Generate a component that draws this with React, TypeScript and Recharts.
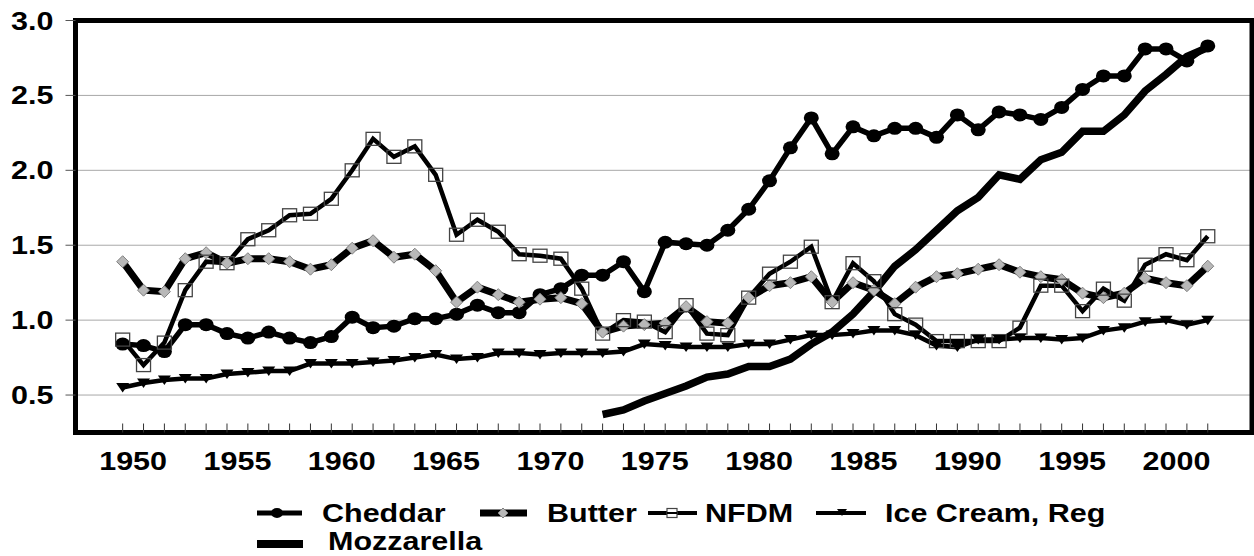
import React from 'react';
import { LineChart, Line, XAxis, YAxis, CartesianGrid, ReferenceArea } from 'recharts';

const years = [1950, 1951, 1952, 1953, 1954, 1955, 1956, 1957, 1958, 1959, 1960, 1961, 1962, 1963, 1964, 1965, 1966, 1967, 1968, 1969, 1970, 1971, 1972, 1973, 1974, 1975, 1976, 1977, 1978, 1979, 1980, 1981, 1982, 1983, 1984, 1985, 1986, 1987, 1988, 1989, 1990, 1991, 1992, 1993, 1994, 1995, 1996, 1997, 1998, 1999, 2000, 2001, 2002];

const cheddar = [0.84, 0.83, 0.79, 0.97, 0.97, 0.91, 0.88, 0.92, 0.88, 0.85, 0.89, 1.02, 0.95, 0.96, 1.01, 1.01, 1.04, 1.10, 1.05, 1.05, 1.17, 1.21, 1.30, 1.30, 1.39, 1.19, 1.52, 1.51, 1.50, 1.60, 1.74, 1.93, 2.15, 2.35, 2.11, 2.29, 2.23, 2.28, 2.28, 2.22, 2.37, 2.27, 2.39, 2.37, 2.34, 2.42, 2.54, 2.63, 2.63, 2.81, 2.81, 2.73, 2.83];

const butter = [1.39, 1.20, 1.19, 1.41, 1.45, 1.38, 1.41, 1.41, 1.39, 1.34, 1.37, 1.48, 1.53, 1.42, 1.44, 1.33, 1.12, 1.22, 1.17, 1.12, 1.14, 1.15, 1.11, 0.92, 0.96, 0.97, 0.98, 1.09, 0.99, 0.98, 1.15, 1.23, 1.25, 1.29, 1.12, 1.25, 1.20, 1.11, 1.22, 1.29, 1.31, 1.34, 1.37, 1.32, 1.29, 1.27, 1.18, 1.15, 1.18, 1.28, 1.25, 1.23, 1.36];

const nfdm = [0.87, 0.70, 0.85, 1.20, 1.39, 1.38, 1.54, 1.60, 1.70, 1.71, 1.81, 2.00, 2.21, 2.09, 2.16, 1.97, 1.57, 1.67, 1.59, 1.44, 1.43, 1.41, 1.21, 0.91, 1.00, 0.99, 0.92, 1.10, 0.91, 0.90, 1.15, 1.31, 1.39, 1.49, 1.12, 1.38, 1.26, 1.04, 0.97, 0.86, 0.86, 0.86, 0.86, 0.95, 1.23, 1.23, 1.06, 1.21, 1.13, 1.37, 1.44, 1.40, 1.56];

const iceCream = [0.55, 0.58, 0.60, 0.61, 0.61, 0.64, 0.65, 0.66, 0.66, 0.71, 0.71, 0.71, 0.72, 0.73, 0.75, 0.77, 0.74, 0.75, 0.78, 0.78, 0.77, 0.78, 0.78, 0.78, 0.79, 0.84, 0.83, 0.82, 0.82, 0.82, 0.84, 0.84, 0.87, 0.90, 0.90, 0.91, 0.93, 0.93, 0.90, 0.83, 0.82, 0.87, 0.87, 0.88, 0.88, 0.87, 0.88, 0.93, 0.95, 0.99, 1.00, 0.97, 1.00];

const mozzarella: (number | null)[] = [null, null, null, null, null, null, null, null, null, null, null, null, null, null, null, null, null, null, null, null, null, null, null, 0.37, 0.40, 0.46, 0.51, 0.56, 0.62, 0.64, 0.69, 0.69, 0.74, 0.84, 0.92, 1.04, 1.19, 1.36, 1.47, 1.60, 1.73, 1.82, 1.97, 1.94, 2.07, 2.12, 2.26, 2.26, 2.37, 2.53, 2.64, 2.76, 2.82];

const yTicks = [0.5, 1.0, 1.5, 2.0, 2.5, 3.0];
const yearLabels = [1950, 1955, 1960, 1965, 1970, 1975, 1980, 1985, 1990, 1995, 2000];

const X_DOMAIN: [number, number] = [1947.74, 2004.12];
const Y_DOMAIN: [number, number] = [0.25, 3.0];

const rows = years.map((y, i) => ({
  year: y,
  cheddar: cheddar[i],
  butter: butter[i],
  nfdm: nfdm[i],
  iceCream: iceCream[i],
  mozzarella: mozzarella[i],
}));

// tick marks at each year, labels centred between year ticks
const xTicks = [...years, ...yearLabels.map((y) => y + 0.5)];

const FONT = "'Liberation Sans', Arial, sans-serif";
const SX = 1.22;

const SText = ({ x, y, anchor, children }: any) => (
  <text
    transform={`translate(${x},${y}) scale(${SX},1)`}
    textAnchor={anchor}
    fontFamily={FONT}
    fontWeight="bold"
    fontSize={25}
    fill="#000"
  >
    {children}
  </text>
);

const XTick = (props: any) => {
  const { x, y, payload } = props;
  const v = payload.value;
  if (Number.isInteger(v)) {
    return <line x1={x} x2={x} y1={y} y2={y - 9} stroke="#333" strokeWidth={1} />;
  }
  const yr = Math.floor(v);
  return (
    <SText x={x} y={y + 37.5} anchor="middle">
      {yr}
    </SText>
  );
};

const YTick = (props: any) => {
  const { x, y, payload } = props;
  return (
    <SText x={x} y={y + 9} anchor="end">
      {Number(payload.value).toFixed(1)}
    </SText>
  );
};

const CheddarDot = (p: any) =>
  p.cy == null ? <g key={p.index} /> : <ellipse key={p.index} cx={p.cx} cy={p.cy} rx={7.5} ry={6.5} fill="#000" />;

const ButterDot = (p: any) =>
  p.cy == null ? (
    <g key={p.index} />
  ) : (
    <polygon
      key={p.index}
      points={`${p.cx},${p.cy - 6} ${p.cx + 6},${p.cy} ${p.cx},${p.cy + 6} ${p.cx - 6},${p.cy}`}
      fill="#b8b8b8"
      stroke="#808080"
      strokeWidth={1}
    />
  );

const NfdmDot = (p: any) =>
  p.cy == null ? (
    <g key={p.index} />
  ) : (
    <rect key={p.index} x={p.cx - 7} y={p.cy - 6.5} width={14} height={13} fill="none" stroke="#444" strokeWidth={1.3} />
  );

const IceDot = (p: any) =>
  p.cy == null ? (
    <g key={p.index} />
  ) : (
    <polygon
      key={p.index}
      points={`${p.cx - 6.5},${p.cy - 4.5} ${p.cx + 6.5},${p.cy - 4.5} ${p.cx},${p.cy + 5}`}
      fill="#000"
    />
  );

const Legend = () => (
  <svg width={1254} height={556} style={{ position: 'absolute', left: 0, top: 0, pointerEvents: 'none' }}>
    {/* Cheddar */}
    <line x1={257} x2={302} y1={513} y2={513} stroke="#000" strokeWidth={5} />
    <ellipse cx={277} cy={513} rx={6} ry={5} fill="#000" />
    <SText x={322} y={522} anchor="start">Cheddar</SText>
    {/* Butter */}
    <line x1={480} x2={527} y1={513} y2={513} stroke="#000" strokeWidth={7} />
    <polygon points="503,508 508,513 503,518 498,513" fill="#b8b8b8" stroke="#808080" strokeWidth={1} />
    <SText x={547} y={522} anchor="start">Butter</SText>
    {/* NFDM */}
    <line x1={648} x2={697} y1={513} y2={513} stroke="#000" strokeWidth={4} />
    <rect x={667} y={508.5} width={10} height={9} fill="#fff" stroke="#444" strokeWidth={1.2} />
    <line x1={667} x2={677} y1={513} y2={513} stroke="#000" strokeWidth={2} />
    <SText x={705} y={522} anchor="start">NFDM</SText>
    {/* Ice Cream */}
    <line x1={816} x2={866} y1={513} y2={513} stroke="#000" strokeWidth={4} />
    <polygon points="837,509 847,509 842,516" fill="#000" />
    <SText x={885} y={522} anchor="start">Ice Cream, Reg</SText>
    {/* Mozzarella */}
    <line x1={257} x2={303} y1={544} y2={544} stroke="#000" strokeWidth={8} />
    <SText x={328} y={550} anchor="start">Mozzarella</SText>
  </svg>
);

export default function App() {
  return (
    <div style={{ position: 'absolute', left: 0, top: 0, width: 1254, height: 556, background: '#fff' }}>
      <LineChart
        width={1254}
        height={556}
        data={rows}
        margin={{ top: 20.5, right: 2, bottom: 63.5, left: 0.5 }}
      >
        <CartesianGrid vertical={false} stroke="#a8a8a8" strokeWidth={1} />
        <XAxis
          dataKey="year"
          type="number"
          domain={X_DOMAIN}
          ticks={xTicks}
          interval={0}
          allowDataOverflow
          axisLine={false}
          tickLine={false}
          tickSize={0}
          tickMargin={0}
          height={60}
          tick={<XTick />}
        />
        <YAxis
          type="number"
          domain={Y_DOMAIN}
          ticks={yTicks}
          interval={0}
          allowDataOverflow
          width={75}
          axisLine={false}
          tickLine={{ stroke: '#555', strokeWidth: 1 }}
          tickSize={10}
          tickMargin={12}
          tick={<YTick />}
        />
        <ReferenceArea
          x1={X_DOMAIN[0]}
          x2={X_DOMAIN[1]}
          y1={Y_DOMAIN[0]}
          y2={Y_DOMAIN[1]}
          fill="none"
          fillOpacity={0}
          stroke="#000"
          strokeWidth={5}
          ifOverflow="visible"
        />
        <Line type="linear" dataKey="cheddar" stroke="#000" strokeWidth={5.5} dot={CheddarDot} isAnimationActive={false} />
        <Line type="linear" dataKey="butter" stroke="#000" strokeWidth={7} dot={ButterDot} isAnimationActive={false} />
        <Line type="linear" dataKey="nfdm" stroke="#000" strokeWidth={4.5} dot={NfdmDot} isAnimationActive={false} />
        <Line type="linear" dataKey="iceCream" stroke="#000" strokeWidth={4.5} dot={IceDot} isAnimationActive={false} />
        <Line type="linear" dataKey="mozzarella" stroke="#000" strokeWidth={7.5} dot={false} connectNulls={false} isAnimationActive={false} />
      </LineChart>
      <Legend />
    </div>
  );
}
